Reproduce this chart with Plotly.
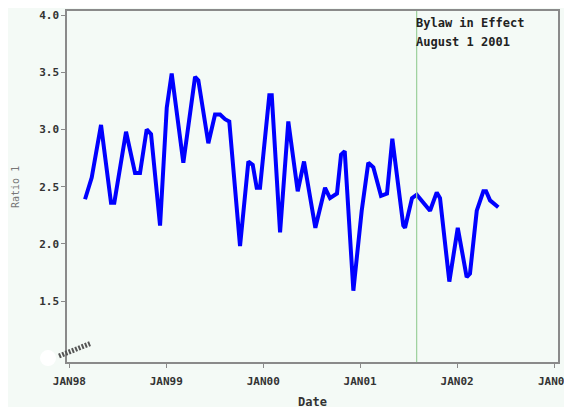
import plotly.graph_objects as go

# ---- data (decimal years, ratio values) ----
t_years = [1998.162, 1998.231, 1998.327, 1998.430, 1998.464, 1998.585, 1998.678, 1998.729,
           1998.798, 1998.843, 1998.936, 1999.005, 1999.056, 1999.176, 1999.297, 1999.331,
           1999.434, 1999.503, 1999.555, 1999.606, 1999.650, 1999.761, 1999.847, 1999.892,
           1999.933, 1999.967, 2000.063, 2000.088, 2000.174, 2000.259, 2000.356, 2000.421,
           2000.538, 2000.638, 2000.689, 2000.761, 2000.803, 2000.841, 2000.930, 2001.016,
           2001.084, 2001.136, 2001.215, 2001.277, 2001.332, 2001.445, 2001.463, 2001.535,
           2001.584, 2001.721, 2001.790, 2001.824, 2001.920, 2002.007, 2002.099, 2002.133,
           2002.203, 2002.271, 2002.299, 2002.340, 2002.425]
ratio_1 = [2.39, 2.58, 3.04, 2.36, 2.36, 2.98, 2.62, 2.62,
           3.00, 2.96, 2.16, 3.19, 3.49, 2.71, 3.46, 3.43,
           2.88, 3.13, 3.13, 3.09, 3.07, 1.98, 2.72, 2.69,
           2.49, 2.49, 3.30, 3.30, 2.10, 3.07, 2.46, 2.72,
           2.14, 2.49, 2.40, 2.44, 2.78, 2.81, 1.59, 2.29,
           2.71, 2.67, 2.42, 2.44, 2.92, 2.16, 2.14, 2.40,
           2.43, 2.29, 2.45, 2.40, 1.67, 2.14, 1.71, 1.74,
           2.29, 2.46, 2.46, 2.38, 2.32]

x_tick_vals = [1998, 1999, 2000, 2001, 2002, 2003]
x_tick_text = ["JAN98", "JAN99", "JAN00", "JAN01", "JAN02", "JAN03"]
y_tick_vals = [1.5, 2.0, 2.5, 3.0, 3.5, 4.0]
y_tick_text = ["1.5", "2.0", "2.5", "3.0", "3.5", "4.0"]

bylaw_date = 2001.583
bylaw_lines = ["Bylaw in Effect", "August 1 2001"]

BG = "#F4FAF6"
MONO = "DejaVu Sans Mono"

fig = go.Figure()
fig.add_trace(go.Scatter(
    x=t_years, y=ratio_1, mode="lines",
    line=dict(color="#0000FF", width=4),
    hoverinfo="skip", showlegend=False,
))

W, H = 572, 407
OFF = 8  # page body margin
# plot area in screen pixels
SL, SR, ST, SB = 67, 558, 9, 362
pw, ph = SR - SL, SB - ST

def px(xs):
    return (xs - SL) / pw

def py(ys):
    return (SB - ys) / ph

tick_font = dict(family=MONO, size=11, color="#333333", weight="bold")

# the last x tick label sits at the right edge; draw it as an annotation
axis_tick_text = x_tick_text[:-1] + [""]

fig.update_layout(
    width=W, height=H,
    margin=dict(l=SL - OFF, r=W + OFF - SR, t=ST - OFF, b=H + OFF - SB, pad=0),
    paper_bgcolor=BG, plot_bgcolor=BG,
    font=dict(family=MONO, size=9, color="#333333"),
    xaxis=dict(
        range=[1997.976, 2003.041], tickvals=x_tick_vals, ticktext=axis_tick_text,
        showgrid=False, zeroline=False, showline=True, linecolor="#8A8A8A",
        linewidth=1.5, mirror=True, ticks="outside", ticklen=4, tickcolor="#8A8A8A",
        tickfont=tick_font, ticklabelstandoff=4,
    ),
    yaxis=dict(
        range=[0.967, 4.036], tickvals=y_tick_vals, ticktext=y_tick_text,
        showgrid=False, zeroline=False, showline=True, linecolor="#8A8A8A",
        linewidth=1.5, mirror=True, ticks="outside", ticklen=4, tickcolor="#8A8A8A",
        tickfont=tick_font,
    ),
    shapes=[
        dict(type="line", xref="x", yref="paper", x0=bylaw_date, x1=bylaw_date,
             y0=0, y1=1, line=dict(color="#9BD09B", width=1.2)),
        dict(type="circle", xref="paper", yref="paper", x0=px(40), x1=px(56),
             y0=py(366), y1=py(350), fillcolor="white", line=dict(width=0)),
        dict(type="line", xref="paper", yref="paper", x0=px(59), x1=px(90),
             y0=py(356), y1=py(343.5),
             line=dict(color="#555555", width=5, dash="2px,1.5px")),
    ],
    annotations=[
        dict(text=x_tick_text[-1], x=x_tick_vals[-1], y=py(382), xref="x", yref="paper",
             xanchor="center", yanchor="middle", showarrow=False, font=tick_font),
        dict(text=bylaw_lines[0], x=bylaw_date, y=py(21), xref="x", yref="paper",
             xanchor="left", yanchor="middle", showarrow=False, xshift=-3,
             font=dict(family=MONO, size=12, color="#222222", weight="bold")),
        dict(text=bylaw_lines[1], x=bylaw_date, y=py(40), xref="x", yref="paper",
             xanchor="left", yanchor="middle", showarrow=False, xshift=-3,
             font=dict(family=MONO, size=12, color="#222222", weight="bold")),
        dict(text="Date", x=px(312), y=py(402), xref="paper", yref="paper",
             xanchor="center", yanchor="middle", showarrow=False,
             font=dict(family=MONO, size=12, color="#333333", weight="bold")),
        dict(text="Ratio 1", x=px(16), y=py(186), xref="paper", yref="paper",
             xanchor="center", yanchor="middle", showarrow=False, textangle=-90,
             font=dict(family=MONO, size=10, color="#777777")),
    ],
)

fig.write_html("out.html")
